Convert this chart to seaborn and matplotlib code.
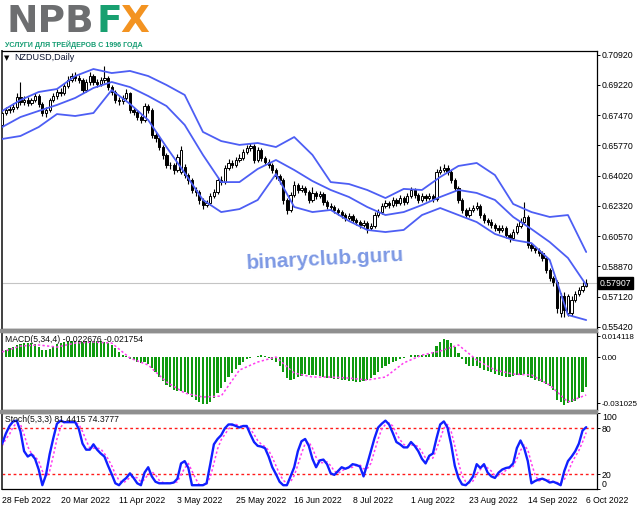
import numpy as np
import matplotlib
matplotlib.use("Agg")
import matplotlib.pyplot as plt
import matplotlib.transforms as mtransforms
from matplotlib.patches import Rectangle
import seaborn as sns

sns.set_style("white")
plt.rcParams['font.family'] = ['Liberation Sans', 'DejaVu Sans']

# ---------------- data ----------------
date_labels = ['28 Feb 2022', '20 Mar 2022', '11 Apr 2022', '3 May 2022', '25 May 2022',
               '16 Jun 2022', '8 Jul 2022', '1 Aug 2022', '23 Aug 2022', '14 Sep 2022', '6 Oct 2022']
date_label_bars = [0, 16, 32, 48, 64, 80, 96, 112, 128, 144, 160]

price_ticks = [0.70920, 0.69220, 0.67470, 0.65770, 0.64020, 0.62320, 0.60570, 0.58870, 0.57120, 0.55420]
last_price = 0.57907

open_ = [
    0.6693, 0.6761, 0.6778, 0.6784, 0.6795, 0.6852, 0.6824, 0.6835, 0.6818, 0.6835,
    0.6858, 0.6813, 0.6761, 0.6778, 0.6835, 0.6858, 0.6881, 0.6875, 0.6915, 0.6949,
    0.6972, 0.6961, 0.6949, 0.6892, 0.6938, 0.6972, 0.6938, 0.6927, 0.6949, 0.6961,
    0.6909, 0.6881, 0.6835, 0.6830, 0.6847, 0.6875, 0.6778, 0.6767, 0.6738, 0.6721,
    0.6801, 0.6778, 0.6636, 0.6619, 0.6567, 0.6522, 0.6465, 0.6465, 0.6436, 0.6425,
    0.6453, 0.6407, 0.6379, 0.6322, 0.6310, 0.6265, 0.6236, 0.6248, 0.6288, 0.6310,
    0.6379, 0.6368, 0.6447, 0.6476, 0.6465, 0.6493, 0.6504, 0.6539, 0.6562, 0.6573,
    0.6493, 0.6550, 0.6504, 0.6482, 0.6465, 0.6436, 0.6402, 0.6379, 0.6265, 0.6208,
    0.6293, 0.6350, 0.6322, 0.6333, 0.6310, 0.6265, 0.6305, 0.6288, 0.6299, 0.6253,
    0.6230, 0.6225, 0.6208, 0.6196, 0.6179, 0.6162, 0.6174, 0.6151, 0.6139, 0.6122,
    0.6134, 0.6105, 0.6116, 0.6179, 0.6196, 0.6230, 0.6248, 0.6236, 0.6265, 0.6248,
    0.6276, 0.6253, 0.6288, 0.6322, 0.6293, 0.6265, 0.6288, 0.6276, 0.6288, 0.6270,
    0.6425, 0.6436, 0.6447, 0.6425, 0.6379, 0.6333, 0.6265, 0.6208, 0.6179, 0.6208,
    0.6219, 0.6230, 0.6179, 0.6151, 0.6139, 0.6122, 0.6105, 0.6094, 0.6105, 0.6065,
    0.6048, 0.6082, 0.6116, 0.6139, 0.6167, 0.6008, 0.5991, 0.5980, 0.5962, 0.5934,
    0.5866, 0.5820, 0.5797, 0.5620, 0.5717, 0.5620, 0.5620, 0.5694, 0.5728, 0.5751,
    0.5774]
high = [
    0.6778, 0.6795, 0.6801, 0.6818, 0.6875, 0.6938, 0.6858, 0.6852, 0.6847, 0.6875,
    0.6869, 0.6824, 0.6795, 0.6847, 0.6875, 0.6898, 0.6904, 0.6932, 0.6972, 0.6989,
    0.6995, 0.6978, 0.6961, 0.6955, 0.6995, 0.6984, 0.6955, 0.6966, 0.7029, 0.6972,
    0.6921, 0.6892, 0.6852, 0.6864, 0.6898, 0.6881, 0.6795, 0.6778, 0.6750, 0.6818,
    0.6813, 0.6790, 0.6653, 0.6630, 0.6579, 0.6533, 0.6482, 0.6476, 0.6527, 0.6573,
    0.6470, 0.6419, 0.6390, 0.6339, 0.6322, 0.6276, 0.6265, 0.6305, 0.6327, 0.6396,
    0.6402, 0.6465, 0.6499, 0.6493, 0.6510, 0.6527, 0.6556, 0.6579, 0.6590, 0.6584,
    0.6567, 0.6562, 0.6516, 0.6499, 0.6476, 0.6447, 0.6413, 0.6390, 0.6276, 0.6310,
    0.6373, 0.6362, 0.6350, 0.6345, 0.6322, 0.6339, 0.6316, 0.6316, 0.6310, 0.6265,
    0.6248, 0.6236, 0.6219, 0.6208, 0.6191, 0.6191, 0.6185, 0.6162, 0.6151, 0.6151,
    0.6145, 0.6134, 0.6196, 0.6213, 0.6248, 0.6265, 0.6259, 0.6282, 0.6276, 0.6293,
    0.6288, 0.6305, 0.6339, 0.6333, 0.6305, 0.6305, 0.6299, 0.6305, 0.6299, 0.6442,
    0.6459, 0.6470, 0.6465, 0.6436, 0.6390, 0.6345, 0.6276, 0.6219, 0.6225, 0.6236,
    0.6253, 0.6242, 0.6191, 0.6162, 0.6156, 0.6134, 0.6122, 0.6122, 0.6116, 0.6077,
    0.6099, 0.6134, 0.6162, 0.6253, 0.6179, 0.6020, 0.6003, 0.5991, 0.5974, 0.5945,
    0.5877, 0.5831, 0.5808, 0.5734, 0.5740, 0.5728, 0.5717, 0.5745, 0.5768, 0.5797,
    0.5814]
low = [
    0.6676, 0.6750, 0.6761, 0.6767, 0.6784, 0.6807, 0.6807, 0.6801, 0.6807, 0.6824,
    0.6795, 0.6744, 0.6738, 0.6767, 0.6824, 0.6841, 0.6858, 0.6864, 0.6904, 0.6938,
    0.6944, 0.6932, 0.6875, 0.6881, 0.6921, 0.6921, 0.6909, 0.6915, 0.6932, 0.6892,
    0.6864, 0.6818, 0.6807, 0.6813, 0.6835, 0.6761, 0.6750, 0.6721, 0.6704, 0.6710,
    0.6761, 0.6619, 0.6596, 0.6550, 0.6499, 0.6447, 0.6442, 0.6413, 0.6425, 0.6413,
    0.6390, 0.6356, 0.6305, 0.6288, 0.6242, 0.6213, 0.6225, 0.6236, 0.6276, 0.6299,
    0.6350, 0.6356, 0.6436, 0.6447, 0.6453, 0.6482, 0.6493, 0.6527, 0.6545, 0.6476,
    0.6482, 0.6487, 0.6465, 0.6447, 0.6419, 0.6385, 0.6356, 0.6242, 0.6185, 0.6196,
    0.6282, 0.6305, 0.6310, 0.6293, 0.6248, 0.6253, 0.6270, 0.6276, 0.6236, 0.6213,
    0.6208, 0.6191, 0.6179, 0.6162, 0.6145, 0.6151, 0.6134, 0.6122, 0.6105, 0.6111,
    0.6077, 0.6094, 0.6105, 0.6168, 0.6185, 0.6219, 0.6219, 0.6225, 0.6230, 0.6236,
    0.6236, 0.6242, 0.6276, 0.6276, 0.6248, 0.6253, 0.6259, 0.6265, 0.6253, 0.6259,
    0.6413, 0.6425, 0.6407, 0.6362, 0.6316, 0.6248, 0.6191, 0.6162, 0.6168, 0.6196,
    0.6208, 0.6162, 0.6134, 0.6122, 0.6105, 0.6088, 0.6077, 0.6082, 0.6048, 0.6025,
    0.6037, 0.6071, 0.6105, 0.6128, 0.5991, 0.5974, 0.5962, 0.5945, 0.5917, 0.5849,
    0.5803, 0.5774, 0.5620, 0.5598, 0.5598, 0.5603, 0.5603, 0.5683, 0.5717, 0.5740,
    0.5768]
close = [
    0.6761, 0.6778, 0.6784, 0.6795, 0.6852, 0.6824, 0.6835, 0.6818, 0.6835, 0.6858,
    0.6813, 0.6761, 0.6778, 0.6835, 0.6858, 0.6881, 0.6875, 0.6915, 0.6949, 0.6972,
    0.6961, 0.6949, 0.6892, 0.6938, 0.6972, 0.6938, 0.6927, 0.6949, 0.6961, 0.6909,
    0.6881, 0.6835, 0.6830, 0.6847, 0.6875, 0.6778, 0.6767, 0.6738, 0.6721, 0.6801,
    0.6778, 0.6636, 0.6619, 0.6567, 0.6522, 0.6465, 0.6465, 0.6436, 0.6510, 0.6550,
    0.6407, 0.6379, 0.6322, 0.6310, 0.6265, 0.6236, 0.6248, 0.6288, 0.6310, 0.6379,
    0.6368, 0.6447, 0.6476, 0.6465, 0.6493, 0.6504, 0.6539, 0.6562, 0.6573, 0.6493,
    0.6550, 0.6504, 0.6482, 0.6465, 0.6436, 0.6402, 0.6379, 0.6265, 0.6208, 0.6293,
    0.6350, 0.6322, 0.6333, 0.6310, 0.6265, 0.6305, 0.6288, 0.6299, 0.6253, 0.6230,
    0.6225, 0.6208, 0.6196, 0.6179, 0.6162, 0.6174, 0.6151, 0.6139, 0.6122, 0.6134,
    0.6105, 0.6116, 0.6179, 0.6196, 0.6230, 0.6248, 0.6236, 0.6265, 0.6248, 0.6276,
    0.6253, 0.6288, 0.6322, 0.6293, 0.6265, 0.6288, 0.6276, 0.6288, 0.6270, 0.6425,
    0.6436, 0.6447, 0.6425, 0.6379, 0.6333, 0.6265, 0.6208, 0.6179, 0.6208, 0.6219,
    0.6230, 0.6179, 0.6151, 0.6139, 0.6122, 0.6105, 0.6094, 0.6105, 0.6065, 0.6048,
    0.6082, 0.6116, 0.6139, 0.6167, 0.6008, 0.5991, 0.5980, 0.5962, 0.5934, 0.5866,
    0.5820, 0.5797, 0.5649, 0.5717, 0.5637, 0.5717, 0.5694, 0.5728, 0.5751, 0.5774,
    0.57907]

# Bollinger bands, read every 5th bar
bb_bars = [0, 5, 10, 15, 20, 25, 30, 35, 40, 45, 50, 55, 60, 65, 70, 75, 80, 85, 90, 95,
           100, 105, 110, 115, 120, 125, 130, 135, 140, 145, 150, 155, 160]
bb_upper = [0.6773, 0.6835, 0.6881, 0.6898, 0.6972, 0.7012, 0.6989, 0.7001, 0.6972, 0.6921,
            0.6864, 0.6653, 0.6601, 0.6579, 0.6590, 0.6567, 0.6624, 0.6522, 0.6367, 0.6356,
            0.6322, 0.6276, 0.6328, 0.6322, 0.6396, 0.6459, 0.6476, 0.6407, 0.6242, 0.6196,
            0.6168, 0.6179, 0.5968]
bb_mid = [0.6681, 0.6738, 0.6773, 0.6807, 0.6847, 0.6904, 0.6938, 0.6909, 0.6858, 0.6801,
          0.6693, 0.6522, 0.6367, 0.6367, 0.6442, 0.6493, 0.6436, 0.6373, 0.6322, 0.6282,
          0.6225, 0.6179, 0.6196, 0.6236, 0.6282, 0.6322, 0.6305, 0.6265, 0.6168, 0.6099,
          0.6025, 0.5934, 0.5780]
bb_lower = [0.6613, 0.6630, 0.6681, 0.6755, 0.6744, 0.6761, 0.6892, 0.6813, 0.6721, 0.6567,
            0.6419, 0.6265, 0.6196, 0.6213, 0.6265, 0.6413, 0.6225, 0.6196, 0.6208, 0.6145,
            0.6094, 0.6082, 0.6094, 0.6179, 0.6219, 0.6179, 0.6139, 0.6071, 0.6037, 0.6019,
            0.5923, 0.5609, 0.5580]

macd_hist = [
    0.0034, 0.0047, 0.0061, 0.0067, 0.0081, 0.0088, 0.0094, 0.0094, 0.0094, 0.0088,
    0.0067, 0.0047, 0.0047, 0.0054, 0.0074, 0.0088, 0.0094, 0.0101, 0.0108, 0.0108,
    0.0108, 0.0108, 0.0101, 0.0108, 0.0108, 0.0108, 0.0108, 0.0108, 0.0101, 0.0094,
    0.0081, 0.0061, 0.0034, 0.0013, 0.0007, -0.0013, -0.0020, -0.0034, -0.0040, -0.0034,
    -0.0047, -0.0074, -0.0101, -0.0135, -0.0162, -0.0189, -0.0202, -0.0222, -0.0229, -0.0229,
    -0.0236, -0.0249, -0.0270, -0.0290, -0.0303, -0.0317, -0.0317, -0.0303, -0.0276, -0.0243,
    -0.0209, -0.0168, -0.0135, -0.0108, -0.0081, -0.0054, -0.0034, -0.0013, -0.0004, -0.0002,
    0.0007, 0.0013, 0.0007, -0.0007, -0.0020, -0.0034, -0.0061, -0.0101, -0.0142, -0.0155,
    -0.0148, -0.0135, -0.0128, -0.0115, -0.0121, -0.0121, -0.0121, -0.0128, -0.0135, -0.0142,
    -0.0142, -0.0148, -0.0148, -0.0155, -0.0155, -0.0162, -0.0162, -0.0168, -0.0168, -0.0162,
    -0.0155, -0.0142, -0.0121, -0.0101, -0.0074, -0.0061, -0.0047, -0.0034, -0.0027, -0.0013,
    -0.0007, -0.0002, 0.0013, 0.0013, 0.0013, 0.0013, 0.0013, 0.0020, 0.0034, 0.0074,
    0.0101, 0.0121, 0.0115, 0.0094, 0.0067, 0.0027, -0.0013, -0.0047, -0.0061, -0.0061,
    -0.0061, -0.0074, -0.0088, -0.0094, -0.0101, -0.0115, -0.0121, -0.0128, -0.0135, -0.0135,
    -0.0128, -0.0121, -0.0121, -0.0115, -0.0135, -0.0142, -0.0155, -0.0162, -0.0168, -0.0182,
    -0.0195, -0.0222, -0.0290, -0.0303, -0.0323, -0.0310, -0.0303, -0.0296, -0.0276, -0.0236,
    -0.0202]
macd_sig_bars = bb_bars
macd_signal = [0.0034, 0.0074, 0.0081, 0.0067, 0.0094, 0.0101, 0.0094, -0.0007, -0.0054, -0.0168,
               -0.0243, -0.0270, -0.0263, -0.0088, -0.0034, 0.0000, -0.0108, -0.0135, -0.0135, -0.0142,
               -0.0155, -0.0135, -0.0040, 0.0013, 0.0040, 0.0081, -0.0020, -0.0088, -0.0115, -0.0121,
               -0.0189, -0.0303, -0.0256]
macd_ticks = [0.014118, 0.0, -0.031025]
macd_tick_labels = ['0.014118', '0.00', '-0.031025']

stoch_main = [
    60, 73, 83, 89, 90, 76, 50, 43, 46, 40,
    26, 5.5, 19, 46, 67, 86, 90, 88, 88, 88,
    88, 79, 60, 52, 52, 59, 52, 47, 43, 31,
    20, 8, 5.5, 11, 15, 21, 15, 8, 5.5, 22,
    29, 17, 10, 8, 8, 8, 8, 9, 14, 34,
    37, 28, 5.5, 5.5, 5.5, 5.5, 8, 33, 59, 66,
    71, 80, 85, 85, 83, 81, 83, 83, 72, 62,
    57, 56, 54, 43, 29, 20, 10, 5.5, 5.5, 17,
    29, 50, 63, 66, 57, 40, 29, 38, 39, 33,
    21, 19, 24, 29, 27, 29, 33, 32, 30, 17,
    33, 50, 67, 81, 86, 90, 85, 74, 62, 59,
    55, 55, 62, 57, 50, 40, 34, 44, 47, 67,
    85, 89, 81, 59, 31, 15, 6.5, 5.5, 10, 17,
    33, 28, 33, 22, 17, 15, 22, 26, 28, 29,
    34, 54, 64, 54, 37, 8, 11, 13, 14, 12,
    9, 10, 8, 5.5, 24, 37, 43, 50, 60, 77,
    81.4415]
stoch_signal = [
    57, 66, 72, 82, 87, 85, 72, 56, 47, 43,
    37, 24, 17, 24, 44, 66, 81, 88, 89, 88,
    88, 85, 76, 64, 54, 54, 54, 53, 47, 40,
    31, 20, 12, 8.5, 11, 16, 17, 15, 10, 13,
    20, 23, 19, 12, 9, 8.5, 8.5, 8.5, 10, 19,
    28, 34, 24, 14, 6, 6, 7, 16, 34, 53,
    65, 72, 79, 84, 85, 83, 82, 82, 79, 72,
    64, 59, 56, 51, 42, 31, 20, 12, 8, 10,
    18, 32, 47, 60, 62, 54, 42, 35, 35, 36,
    31, 24, 21, 24, 27, 28, 29, 31, 32, 27,
    27, 34, 50, 66, 79, 85, 87, 83, 73, 65,
    59, 56, 58, 58, 56, 49, 41, 40, 41, 53,
    66, 80, 85, 76, 57, 35, 18, 10, 8.5, 11,
    20, 26, 31, 28, 24, 18, 18, 21, 25, 28,
    30, 40, 51, 58, 52, 34, 19, 11, 13, 13,
    12, 10, 9, 8.5, 13, 22, 34, 43, 51, 62,
    74.3777]
stoch_levels = [80, 20]
stoch_ticks = [100, 80, 20, 0]

# ---------------- layout helpers ----------------
W, H = 639, 508
fig = plt.figure(figsize=(W / 100, H / 100), dpi=100)
fig.patch.set_facecolor('white')


def fx(p):
    return p / W


def fy(p):
    return 1 - p / H


L_PX, R_PX = 1.5, 596.5
X0_PX, DX_PX = 2.2, 3.65
xlim = ((L_PX - X0_PX) / DX_PX, (R_PX - X0_PX) / DX_PX)


def add_ax(top, bottom, lsize=6.3):
    a = fig.add_axes([fx(L_PX), fy(bottom), (R_PX - L_PX) / W, (bottom - top) / H])
    a.set_facecolor('white')
    a.set_xlim(*xlim)
    for s in a.spines.values():
        s.set_color('black')
        s.set_linewidth(0.9)
    a.spines['left'].set_color('#404040')
    a.spines['left'].set_linewidth(1.4)
    a.yaxis.tick_right()
    a.tick_params(axis='y', direction='out', length=2.5, width=0.7, pad=1.5,
                  labelsize=lsize, colors='black')
    return a


ax1 = add_ax(51, 329)
ax2 = add_ax(332, 410, lsize=5.8)
ax3 = add_ax(413, 489.4)

# separators
for top, bot in [(329, 332), (410, 413)]:
    fig.add_artist(Rectangle((0, fy(bot)), fx(597), (bot - top) / H,
                             transform=fig.transFigure, color='#8f8f8f', zorder=5))

# ---------------- main price panel ----------------
idx = np.arange(len(close))
o = np.array(open_)
c = np.array(close)
hi = np.array(high)
lo = np.array(low)
up = c >= o

ax1.axhline(last_price, color='#c4c4c4', lw=0.8, zorder=1)
ax1.vlines(idx, lo, hi, color='black', lw=0.8, zorder=2)
ax1.bar(idx[up], np.maximum(c - o, 0.00012)[up], bottom=o[up], width=0.62,
        color='white', edgecolor='black', linewidth=0.7, zorder=3)
ax1.bar(idx[~up], (o - c)[~up], bottom=c[~up], width=0.62,
        color='black', edgecolor='black', linewidth=0.7, zorder=3)

band_col = '#4d5ef4'
for band in (bb_upper, bb_mid, bb_lower):
    sns.lineplot(x=bb_bars, y=band, ax=ax1, color=band_col, lw=1.3, zorder=4)

ax1.set_ylim(0.55289, 0.71148)
ax1.set_yticks(price_ticks)
ax1.set_yticklabels([f'{t:.5f}' for t in price_ticks])
ax1.set_xticks([])
ax1.set_xlabel('')
ax1.set_ylabel('')

trans = mtransforms.blended_transform_factory(ax1.transAxes, ax1.transData)
ax1.text(1.005, last_price, f'{last_price:.5f}', transform=trans, ha='left', va='center',
         fontsize=6.3, color='white',
         bbox=dict(boxstyle='square,pad=0.2', fc='black', ec='black'), zorder=6)

# ---------------- MACD panel ----------------
ax2.bar(idx, macd_hist, width=0.58, color='#0f9a0f', linewidth=0, zorder=2)
sns.lineplot(x=macd_sig_bars, y=macd_signal, ax=ax2, color='#ff3cf0', lw=1.1,
             linestyle=(0, (1.5, 1.5)), zorder=3)
ax2.set_ylim(-0.03571, 0.01685)
ax2.set_yticks(macd_ticks)
ax2.set_yticklabels(macd_tick_labels)
ax2.set_xticks([])
ax2.set_xlabel('')
ax2.set_ylabel('')

# ---------------- Stochastic panel ----------------
for lv in stoch_levels:
    ax3.axhline(lv, color='#ff1a1a', lw=1.0, linestyle=(0, (2, 2)), zorder=1)
sns.lineplot(x=idx, y=stoch_signal, ax=ax3, color='#ff3cf0', lw=1.1,
             linestyle=(0, (1.5, 1.5)), zorder=2)
sns.lineplot(x=idx, y=stoch_main, ax=ax3, color='#1020ff', lw=1.7, zorder=3)
ax3.set_ylim(0, 100)
ax3.set_yticks(stoch_ticks)
ax3.set_yticklabels([str(t) for t in stoch_ticks])
yl = ax3.get_yticklabels()
yl[0].set_va('top')
yl[-1].set_va('bottom')
ax3.set_xticks(date_label_bars)
ax3.set_xticklabels(date_labels, ha='left', fontsize=6.2)
ax3.tick_params(axis='x', direction='out', length=3, width=0.7, pad=2, colors='black')
ax3.set_xlabel('')
ax3.set_ylabel('')

# ---------------- texts ----------------
fig.text(fx(4), fy(58), '\u25bc', fontsize=5, va='center', ha='left', color='black',
         family='DejaVu Sans')
fig.text(fx(14), fy(58), 'NZDUSD,Daily', fontsize=6.5, va='center', ha='left', color='#0d1530')
fig.text(fx(5), fy(339), 'MACD(5,34,4) -0.022676 -0.021754', fontsize=6.2, va='center',
         ha='left', color='#101010', zorder=10)
fig.text(fx(5), fy(419), 'Stoch(5,3,3) 81.4415 74.3777', fontsize=6.2, va='center',
         ha='left', color='#101010', zorder=10)

# watermark
fig.text(fx(325), fy(259), 'binaryclub.guru', fontsize=15, fontweight='bold',
         color='#7d99e4', ha='center', va='center', rotation=3)

# logo
fig.text(fx(7), fy(32), 'NPB', fontsize=27, fontweight='bold', color='#6d6e70',
         va='baseline', ha='left', family='DejaVu Sans')
fig.text(fx(96), fy(32), 'F', fontsize=27, fontweight='bold', color='#18a070',
         va='baseline', ha='left', family='DejaVu Sans')
fig.text(fx(120), fy(32), 'X', fontsize=27, fontweight='bold', color='#f39321',
         va='baseline', ha='left', family='DejaVu Sans')
fig.text(fx(5), fy(44.5), 'УСЛУГИ ДЛЯ ТРЕЙДЕРОВ С 1996 ГОДА', fontsize=5.1,
         fontweight='bold', color='#149c72', va='center', ha='left')

fig.savefig('out.png', dpi=100, facecolor='white')
